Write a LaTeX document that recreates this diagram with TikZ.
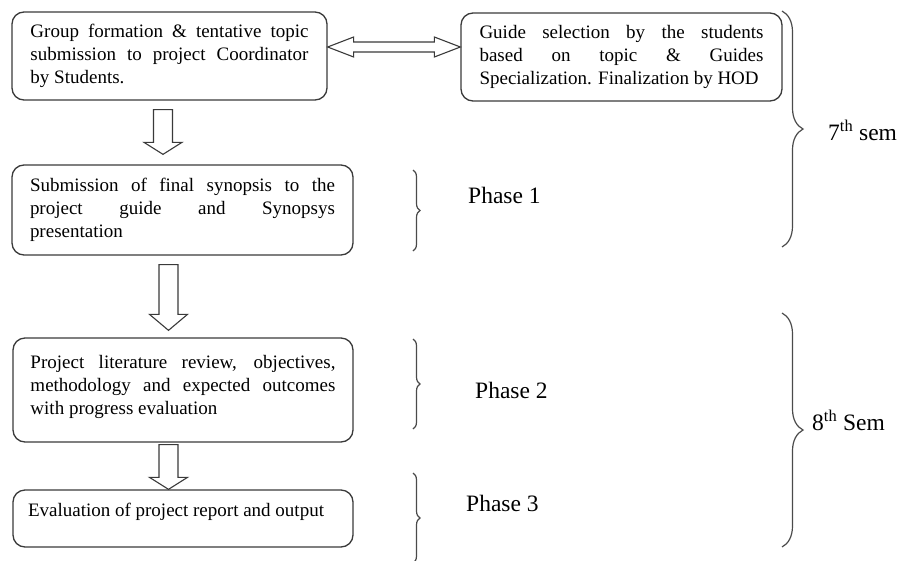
\documentclass[tikz,border=0pt]{standalone}
\usepackage{fontspec}
\setmainfont{Liberation Serif}
\usetikzlibrary{calc,decorations.pathreplacing}
\definecolor{linegray}{HTML}{3A3A3A}
\definecolor{bracegray}{HTML}{4A4A4A}
\tikzset{
  stagebox/.style={draw=linegray, line width=1.3pt, rounded corners=12pt, align=justify,
    font=\fontsize{19}{23}\selectfont, inner ysep=0pt, anchor=center},
  arrowline/.style={draw=linegray, line width=1.1pt, line join=miter, fill=white},
  bracepath/.style={draw=bracegray, line width=1.2pt, decorate},
  phaselabel/.style={font=\fontsize{23.5}{28}\selectfont, anchor=west, inner sep=0pt},
}
% block arrow pointing down: #1 top centre, #2 tip, #3 shaft half width, #4 head half width, #5 head length
\newcommand\blockdown[5]{%
  \draw[arrowline] let \p1=(#1), \p2=(#2) in
    (\x1-#3pt,\y1) -- (\x1-#3pt,\y2+#5pt) -- (\x1-#4pt,\y2+#5pt) -- (\x1,\y2)
    -- (\x1+#4pt,\y2+#5pt) -- (\x1+#3pt,\y2+#5pt) -- (\x1+#3pt,\y1) -- cycle;}
% horizontal double block arrow: #1 left tip, #2 right tip, #3 shaft half, #4 head half, #5 head length
\newcommand\blockboth[5]{%
  \draw[arrowline] let \p1=(#1), \p2=(#2) in
    (\x1,\y1) -- (\x1+#5pt,\y1+#4pt) -- (\x1+#5pt,\y1+#3pt) -- (\x2-#5pt,\y1+#3pt)
    -- (\x2-#5pt,\y1+#4pt) -- (\x2,\y1) -- (\x2-#5pt,\y1-#4pt) -- (\x2-#5pt,\y1-#3pt)
    -- (\x1+#5pt,\y1-#3pt) -- (\x1+#5pt,\y1-#4pt) -- cycle;}
\begin{document}
\begin{tikzpicture}[x=1pt,y=-1pt]
\useasboundingbox (0,0) rectangle (900,560);

% boxes
\node[stagebox, text width=278pt, inner xsep=18.5pt, minimum height=88pt] (b1) at (169.5,56)
  {Group formation \& tentative topic\linebreak submission to project Coordinator\linebreak by Students.};
\node[stagebox, text width=284pt, inner xsep=18.5pt, minimum height=88pt] (b2) at (621.5,57)
  {Guide selection by the students\linebreak based on topic \& Guides\linebreak Specialization. Finalization by HOD};
\node[stagebox, text width=305pt, inner xsep=18pt, minimum height=90pt] (b3) at (182.5,210)
  {Submission of final synopsis to the\linebreak project guide and Synopsys\linebreak presentation};
\node[stagebox, align=left, inner xsep=17.5pt, minimum height=104pt] (b4) at (183,390)
  {\raisebox{3pt}[\height][\depth]{\parbox{305pt}{Project literature review, objectives,\linebreak methodology and expected outcomes\linebreak with progress evaluation}}};
\node[stagebox, align=left, inner xsep=15pt, minimum width=340pt, minimum height=57pt] (b5) at (183,518.5)
  {\raisebox{6.5pt}[\height][\depth]{\makebox[310pt][l]{Evaluation of project report and output}}};

% connectors (block arrows)
\coordinate (a1s) at ($(b1.south)+(-6.5,9)$);
\coordinate (a1e) at ($(b3.north)+(-19.5,-10)$);
\blockdown{a1s}{a1e}{9.5}{19}{12}
\coordinate (a2s) at ($(b3.south)+(-14,9)$);
\coordinate (a2e) at ($(b4.north)+(-14.5,-7)$);
\blockdown{a2s}{a2e}{9.5}{19}{16}
\coordinate (a3s) at ($(b4.south)+(-14.5,2)$);
\coordinate (a3e) at ($(b5.north)+(-14.5,0)$);
\blockdown{a3s}{a3e}{9.5}{19}{12}
\coordinate (dl) at ($(b1.east)+(0,-9)$);
\coordinate (dr) at ($(b2.west |- dl)$);
\blockboth{dl}{dr}{5}{10}{26}

% phase braces
\draw[bracepath, decoration={brace, amplitude=7pt}] (413,170) -- (413,251);
\draw[bracepath, decoration={brace, amplitude=7pt}] (413,339) -- (413,429);
\draw[bracepath, decoration={brace, amplitude=7pt}] (413,473) -- (413,563);
% semester braces
\draw[bracepath, decoration={brace, amplitude=21pt}] (782,11) -- (782,247);
\draw[bracepath, decoration={brace, amplitude=21pt}] (782,313) -- (782,547);

% labels
\node[phaselabel] (p1) at (468,195) {Phase 1};
\node[phaselabel] (p2) at (475,390) {Phase 2};
\node[phaselabel] (p3) at (466,503) {Phase 3};
\node[phaselabel] (s7) at (828,130) {7\textsuperscript{th} sem};
\node[phaselabel] (s8) at (812,420) {8\textsuperscript{th} Sem};
\end{tikzpicture}
\end{document}
